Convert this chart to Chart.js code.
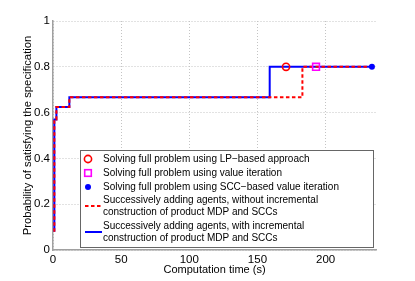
<!DOCTYPE html>
<html>
<head>
<meta charset="utf-8">
<script src="https://cdn.jsdelivr.net/npm/chart.js@4/dist/chart.umd.min.js"></script>
<style>
  html, body { margin: 0; padding: 0; background: #fff; }
  #wrap { width: 415px; height: 281px; }
</style>
</head>
<body>
<div id="wrap"><canvas id="chart" width="415" height="281"></canvas></div>
<script>
// ---------- datos ----------
// escalones: solo las esquinas, se dibujan con stepped 'before' (horizontal y luego vertical)
const timesWith    = [1, 1, 2.5, 12, 159, 234];
const probWith     = [0.08, 0.57, 0.625, 0.667, 0.8, 0.8];
const timesWithout = [1, 1, 2.5, 12, 183, 234];
const probWithout  = [0.08, 0.57, 0.625, 0.667, 0.8, 0.8];

// soluciones del problema completo (tiempo, probabilidad)
const lpPoint   = [171, 0.8];
const viPoint   = [193, 0.8];
const sccPoint  = [234, 0.8];

const xTicks = [0, 50, 100, 150, 200];
const yTicks = [0, 0.2, 0.4, 0.6, 0.8, 1];
const yTickLabels = ['0', '0.2', '0.4', '0.6', '0.8', '1'];
const xMax = 237;

const legendLabels = [
  ['Solving full problem using LP\u2212based approach'],
  ['Solving full problem using value iteration'],
  ['Solving full problem using SCC\u2212based value iteration'],
  ['Successively adding agents, without incremental', 'construction of product MDP and SCCs'],
  ['Successively adding agents, with incremental', 'construction of product MDP and SCCs']
];

const FONT = 'Liberation Sans, Arial, Helvetica, sans-serif';
const RED = '#ff0000', BLUE = '#0000ff', MAGENTA = '#ff00ff';

const toXY = (xs, ys) => xs.map((x, i) => ({ x: x, y: ys[i] }));

// leyenda dibujada a mano (las etiquetas tienen dos líneas)
const matlabLegend = {
  id: 'matlabLegend',
  afterDraw(chart) {
    const ctx = chart.ctx;
    const bx = 80, by = 150, bw = 293, bh = 97;
    ctx.save();
    ctx.fillStyle = '#fff';
    ctx.fillRect(bx, by, bw, bh);
    ctx.strokeStyle = '#666';
    ctx.lineWidth = 1;
    ctx.strokeRect(bx + 0.5, by + 0.5, bw, bh);

    ctx.font = '10px ' + FONT;
    ctx.textBaseline = 'middle';
    const tx = 103, sx = 88;
    const rows = [159, 173, 187, 206, 232];

    // simbolos
    ctx.lineWidth = 1.6;
    ctx.strokeStyle = RED;
    ctx.beginPath(); ctx.arc(sx, rows[0], 3.6, 0, Math.PI * 2); ctx.stroke();
    ctx.strokeStyle = MAGENTA;
    ctx.strokeRect(sx - 3.3, rows[1] - 3.3, 6.6, 6.6);
    ctx.fillStyle = BLUE;
    ctx.beginPath(); ctx.arc(sx, rows[2], 3, 0, Math.PI * 2); ctx.fill();
    ctx.lineWidth = 2;
    ctx.strokeStyle = RED;
    ctx.setLineDash([3.5, 2.5]);
    ctx.beginPath(); ctx.moveTo(85, rows[3]); ctx.lineTo(102, rows[3]); ctx.stroke();
    ctx.setLineDash([]);
    ctx.strokeStyle = BLUE;
    ctx.beginPath(); ctx.moveTo(85, rows[4]); ctx.lineTo(102, rows[4]); ctx.stroke();

    // textos
    ctx.fillStyle = '#000';
    legendLabels.forEach((lines, i) => {
      const lh = 11.5;
      const y0 = rows[i] - (lines.length - 1) * lh / 2;
      lines.forEach((t, j) => ctx.fillText(t, tx, y0 + j * lh));
    });
    ctx.restore();
  }
};

new Chart(document.getElementById('chart'), {
  type: 'scatter',
  data: {
    datasets: [
      { label: 'LP', data: [{ x: lpPoint[0], y: lpPoint[1] }], showLine: false,
        pointStyle: 'circle', pointRadius: 3.6, borderColor: RED, backgroundColor: 'rgba(0,0,0,0)',
        pointBorderWidth: 1.6, order: 0 },
      { label: 'VI', data: [{ x: viPoint[0], y: viPoint[1] }], showLine: false,
        pointStyle: 'rect', pointRadius: 4.8, borderColor: MAGENTA, backgroundColor: 'rgba(0,0,0,0)',
        pointBorderWidth: 1.6, order: 0 },
      { label: 'SCC', data: [{ x: sccPoint[0], y: sccPoint[1] }], showLine: false,
        pointStyle: 'circle', pointRadius: 3, borderColor: BLUE, backgroundColor: BLUE,
        pointBorderWidth: 0, order: 0 },
      { label: 'without', data: toXY(timesWithout, probWithout), showLine: true, stepped: 'before',
        borderColor: RED, borderWidth: 2, borderDash: [3.5, 2.5], pointRadius: 0, order: 1 },
      { label: 'with', data: toXY(timesWith, probWith), showLine: true, stepped: 'before',
        borderColor: BLUE, borderWidth: 2, pointRadius: 0, order: 2 }
    ]
  },
  options: {
    responsive: false,
    devicePixelRatio: 1,
    animation: false,
    layout: { padding: { top: 21, right: 39, left: 0, bottom: 0 } },
    plugins: { legend: { display: false }, tooltip: { enabled: false } },
    scales: {
      x: {
        type: 'linear', min: 0, max: xMax,
        afterBuildTicks: (s) => { s.ticks = xTicks.map(v => ({ value: v })); },
        afterFit: (s) => { s.height = 31; },
        grid: { color: '#c4c4c4', drawTicks: false, tickLength: 0 },
        border: { color: '#a0a0a0', width: 1.5, dash: [1, 2] },
        ticks: { font: { family: FONT, size: 11.5 }, color: '#000', padding: 3, maxRotation: 0 },
        title: { display: true, text: 'Computation time (s)', font: { family: FONT, size: 11 },
                 color: '#000', padding: { top: 0, bottom: 4.5 } }
      },
      y: {
        type: 'linear', min: 0, max: 1,
        afterBuildTicks: (s) => { s.ticks = yTicks.map(v => ({ value: v })); },
        afterFit: (s) => { s.width = 53; },
        grid: { color: '#c4c4c4', drawTicks: false, tickLength: 0 },
        border: { color: '#a0a0a0', width: 1.5, dash: [1, 2] },
        ticks: { font: { family: FONT, size: 11.5 }, color: '#000', padding: 3,
                 callback: (v) => yTickLabels[yTicks.indexOf(v)] },
        title: { display: true, text: 'Probability of satisfying the specification',
                 font: { family: FONT, size: 11.3 }, color: '#000', padding: { top: 21.5, bottom: 0 } }
      }
    }
  },
  plugins: [matlabLegend]
});
</script>
</body>
</html>
